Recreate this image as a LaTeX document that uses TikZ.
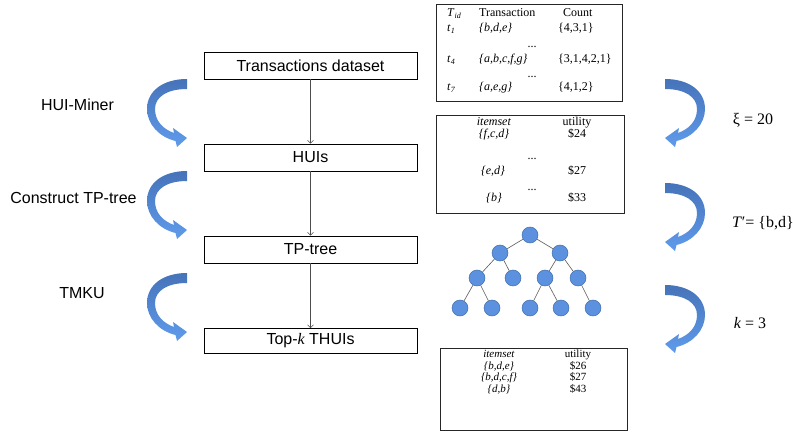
\documentclass[tikz,border=0pt]{standalone}
\usepackage{fontspec}
\setmainfont{Liberation Serif}
\setsansfont{Liberation Sans}
\usetikzlibrary{arrows.meta}
\definecolor{adark}{RGB}{70,115,185}
\definecolor{alight}{RGB}{95,155,235}
\definecolor{tfill}{RGB}{91,145,222}
\definecolor{tdraw}{RGB}{65,110,170}
\tikzset{
  flowbox/.style={draw=black, line width=0.7pt, minimum width=213pt, minimum height=27pt, inner sep=0pt, font=\sffamily\fontsize{16}{18}\selectfont},
  tbox/.style={draw=black!85, line width=0.8pt, inner sep=0pt},
  ttext/.style={anchor=base, inner sep=0pt, font=\fontsize{12}{14}\selectfont},
  ttextw/.style={ttext, anchor=base west},
  ctext/.style={anchor=base, inner sep=0pt, font=\fontsize{11}{12}\selectfont},
  sidelabel/.style={font=\sffamily\fontsize{16}{18}\selectfont, inner sep=0pt},
  paramlabel/.style={font=\fontsize{16}{18}\selectfont, inner sep=0pt},
  tnode/.style={circle, fill=tfill, draw=tdraw, line width=0.5pt, minimum size=16pt, inner sep=0pt},
  flowarrow/.style={-{Straight Barb[length=3pt,width=6pt]}, draw=black!70, line width=0.5pt},
  tedge/.style={draw=black!65, line width=0.6pt},
  curvarrow/.pic={
    \path[top color=adark, bottom color=alight]
      (0,0) .. controls (-24,0) and (-40,12) .. (-40,30)
      .. controls (-40,45) and (-28,58) .. (-11.5,62)
      -- (-10,68) -- (0,59) -- (-14,49) -- (-13,54)
      .. controls (-24,50) and (-32,42) .. (-32,30)
      .. controls (-32,18) and (-20,10) .. (0,10) -- cycle;
  }
}
\begin{document}
\begin{tikzpicture}[x=1pt,y=-1pt]
\useasboundingbox (0,0) rectangle (793,433);

% left flow
\node[flowbox] (b1) at (310.5,65.5) {Transactions dataset};
\node[flowbox] (b2) at (310.5,157.5) {HUIs};
\node[flowbox] (b3) at (310.5,249.5) {TP-tree};
\node[flowbox, minimum height=25pt] (b4) at (310.5,341) {Top-{\rmfamily\itshape k} THUIs};
\draw[flowarrow] (b1) -- (b2);
\draw[flowarrow] (b2) -- (b3);
\draw[flowarrow] (b3) -- (b4);

% left labels
\node[sidelabel] (l1) at (77.5,105) {HUI-Miner};
\node[sidelabel] (l2) at (73.5,198) {Construct TP-tree};
\node[sidelabel] (l3) at (82,293) {TMKU};

% curved arrows
\pic at (187,79) {curvarrow};
\pic at (187,171) {curvarrow};
\pic at (187,273) {curvarrow};
\pic[xscale=-1] at (665,79) {curvarrow};
\pic[xscale=-1] at (665,183) {curvarrow};
\pic[xscale=-1] at (665,285) {curvarrow};

% right labels
\node[paramlabel] (p1) at (753,120) {ξ = 20};
\node[paramlabel] (p2) at (763,223) {\textit{T}′= \{b,d\}};
\node[paramlabel] (p3) at (750,323) {\textit{k} = 3};

% table A
\node[tbox, minimum width=186pt, minimum height=97pt] (tabA) at (529,52.5) {};
\node[ttextw] (tid) at (447,17) {\textit{T}\textsubscript{\textit{id}}};
\node[ttextw] (htr) at (479,17) {Transaction};
\node[ttextw] (hct) at (563,17) {Count};
\node[ttextw] (ta) at (447,32) {\textit{t}\textsubscript{\textit{1}}};
\node[ttextw] (tra) at (479,32) {\textit{\{b,d,e\}}};
\node[ttextw] (ca) at (558,32) {\{4,3,1\}};
\node[ttext] (da) at (532,48) {...};
\node[ttextw] (tb) at (447,63) {\textit{t}\textsubscript{\textit{4}}};
\node[ttextw] (trb) at (479,63) {\textit{\{a,b,c,f,g\}}};
\node[ttextw] (cb) at (558,63) {\{3,1,4,2,1\}};
\node[ttext] (db) at (532,78) {...};
\node[ttextw] (tc) at (447,91) {\textit{t}\textsubscript{\textit{7}}};
\node[ttextw] (trc) at (479,91) {\textit{\{a,e,g\}}};
\node[ttextw] (cc) at (558,91) {\{4,1,2\}};

% table B
\node[tbox, minimum width=188pt, minimum height=98pt] (tabB) at (530,164) {};
\node[ttext] (bh1) at (494,126) {\textit{itemset}};
\node[ttext] (bh2) at (577,126) {utility};
\node[ttext] (ba1) at (494,138) {\textit{\{f,c,d\}}};
\node[ttext] (ba2) at (577,138) {\$24};
\node[ttext] (bd1) at (532,160) {...};
\node[ttext] (bb1) at (493,175) {\textit{\{e,d\}}};
\node[ttext] (bb2) at (577,175) {\$27};
\node[ttext] (bd2) at (532,190) {...};
\node[ttext] (bc1) at (494,202) {\textit{\{b\}}};
\node[ttext] (bc2) at (577,202) {\$33};

% tree
\node[tnode] (r) at (530,235) {};
\node[tnode] (a) at (500,253) {};
\node[tnode] (b) at (560,253) {};
\node[tnode] (aa) at (477,278) {};
\node[tnode] (ab) at (513,278) {};
\node[tnode] (ba) at (545,278) {};
\node[tnode] (bb) at (578,278) {};
\node[tnode] (aaa) at (460,308) {};
\node[tnode] (aab) at (492,308) {};
\node[tnode] (baa) at (530,308) {};
\node[tnode] (bab) at (561,308) {};
\node[tnode] (bba) at (593,308) {};
\draw[tedge] (r) -- (a);
\draw[tedge] (r) -- (b);
\draw[tedge] (a) -- (aa);
\draw[tedge] (a) -- (ab);
\draw[tedge] (b) -- (ba);
\draw[tedge] (b) -- (bb);
\draw[tedge] (aa) -- (aaa);
\draw[tedge] (aa) -- (aab);
\draw[tedge] (ba) -- (baa);
\draw[tedge] (ba) -- (bab);
\draw[tedge] (bb) -- (bba);

% table C
\node[tbox, minimum width=187pt, minimum height=82pt] (tabC) at (533.5,389) {};
\node[ctext] (ch1) at (499,357.5) {\textit{itemset}};
\node[ctext] (ch2) at (578,357.5) {utility};
\node[ctext] (ca1) at (499,369) {\textit{\{b,d,e\}}};
\node[ctext] (ca2) at (578,369) {\$26};
\node[ctext] (cb1) at (499,380.5) {\textit{\{b,d,c,f\}}};
\node[ctext] (cb2) at (578,380.5) {\$27};
\node[ctext] (cc1) at (499,392) {\textit{\{d,b\}}};
\node[ctext] (cc2) at (578,392) {\$43};
\end{tikzpicture}
\end{document}
